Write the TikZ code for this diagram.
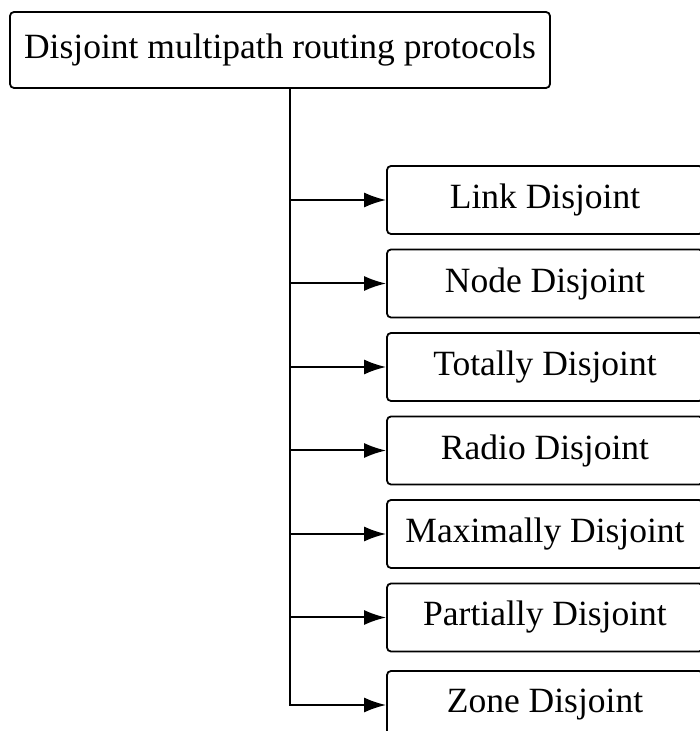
\documentclass[tikz,border=0pt]{standalone}
\usepackage{fontspec}
\setmainfont{Liberation Serif}
\usetikzlibrary{arrows.meta}
\tikzset{
  rootbox/.style={draw, line width=1.8pt, rounded corners=4pt, minimum width=540pt, minimum height=76pt, inner sep=0pt},
  kindbox/.style={draw, line width=1.8pt, rounded corners=4pt, minimum width=316pt, minimum height=68pt, inner sep=0pt},
  branch/.style={line width=2pt, -{Latex[length=22pt,width=15pt]}}
}

\begin{document}
\begin{tikzpicture}[x=1pt, y=1pt, font=\fontsize{35.5}{42}\selectfont]
\useasboundingbox[fill=white] (0,0) rectangle (700,731);
\node[rootbox] (root) at (280,681) {Disjoint multipath routing protocols};
\coordinate (trunk) at (290,643);
% the kinds, one under the other
\node[kindbox] (link) at (545,531) {Link Disjoint};
\node[kindbox] (node) at (545,447.5) {Node Disjoint};
\node[kindbox] (totally) at (545,364) {Totally Disjoint};
\node[kindbox] (radio) at (545,280.5) {Radio Disjoint};
\node[kindbox] (maximally) at (545,197) {Maximally Disjoint};
\node[kindbox] (partially) at (545,113.5) {Partially Disjoint};
\node[kindbox] (zone) at (545,26) {Zone Disjoint};
% trunk and branches
\draw[branch] (trunk) |- (zone.west);
\draw[branch] (trunk |- link.west) -- (link.west);
\draw[branch] (trunk |- node.west) -- (node.west);
\draw[branch] (trunk |- totally.west) -- (totally.west);
\draw[branch] (trunk |- radio.west) -- (radio.west);
\draw[branch] (trunk |- maximally.west) -- (maximally.west);
\draw[branch] (trunk |- partially.west) -- (partially.west);
\end{tikzpicture}
\end{document}
